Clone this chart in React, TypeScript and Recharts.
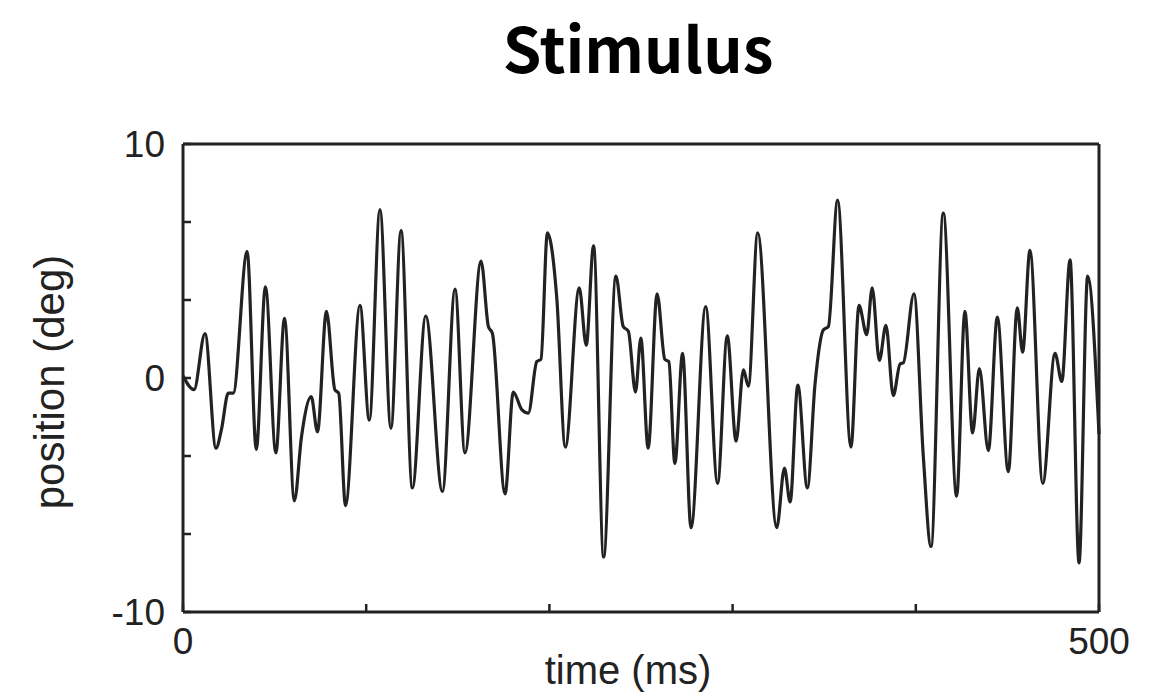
import { Line, LineChart, XAxis, YAxis } from 'recharts';

// sample times (ms) and stimulus position (deg) at turning points
const TIME = [
  0, 6, 12, 18, 21, 24.7, 27.4, 35, 40, 45, 50.7, 55.4, 60.8, 64.7, 70, 73.4, 78.3, 82.9, 85,
  88.7, 96.6, 101.7, 107.5, 113.5, 119, 125.2, 132.5, 141.6, 148.5, 153.9, 162.7, 166.7, 168.9,
  175.8, 180.3, 184.9, 188.5, 193.1, 195.4, 198.9, 204, 208.7, 216.3, 220.1, 224.1, 229.6, 236.3,
  240.3, 243.1, 247, 249.9, 253.9, 258.8, 263, 265.2, 268.5, 272.7, 277.3, 285.3, 291.8, 297.1,
  301.9, 305.9, 308.6, 313.7, 324.1, 328.3, 331.4, 335.6, 340.8, 345, 349.5, 352.3, 357.3, 364.6,
  369, 373.2, 376.2, 380.1, 383.7, 387.7, 391.4, 393.2, 399, 404.1, 408.3, 415, 422.3, 426.8, 431,
  434.7, 439.6, 444.5, 450.5, 455.4, 458.3, 462.3, 469.3, 476, 479.7, 484.2, 489.1, 493.8, 500
];
const POSITION = [
  0.1, -0.5, 1.9, -3.0, -2.2, -0.65, -0.65, 5.4, -3.05, 3.9, -3.2, 2.55, -5.25, -2.5, -0.8, -2.3,
  2.85, -0.5, -0.65, -5.45, 3.1, -1.8, 7.2, -2.15, 6.3, -4.7, 2.65, -4.85, 3.8, -3.2, 5.0, 2.2,
  1.9, -4.95, -0.6, -1.35, -1.5, 0.7, 0.8, 6.2, 3.45, -2.95, 3.85, 1.4, 5.65, -7.65, 4.35, 2.2,
  2.0, -0.6, 1.7, -3.0, 3.6, 0.8, 0.7, -3.65, 1.05, -6.4, 3.05, -4.5, 1.8, -2.7, 0.35, -0.35,
  6.2, -6.4, -3.85, -5.3, -0.3, -4.7, -0.25, 2.05, 2.2, 7.6, -2.95, 3.1, 1.85, 3.85, 0.75, 2.25,
  -0.75, 0.6, 0.65, 3.6, -3.35, -7.2, 7.05, -5.05, 2.85, -2.35, 0.4, -3.1, 2.6, -4.0, 3.0, 1.1,
  5.45, -4.5, 1.05, -0.15, 5.05, -7.9, 4.35, -2.4
];
const X_TICKS = [0, 100, 200, 300, 400, 500];
const X_LABELS = [0, 500];
const Y_TICKS = [-10, -20 / 3, -10 / 3, 0, 10 / 3, 20 / 3, 10];
const Y_LABELS = [-10, 0, 10];

const data = TIME.map((t, i) => ({ t, pos: POSITION[i] }));

const tickFont = { fill: '#222', fontSize: 37, fontFamily: 'Liberation Sans, Arial, sans-serif' };
const frame = { stroke: '#222', strokeWidth: 3 };
const tickMark = { stroke: '#222', strokeWidth: 2.5 };

export default function App() {
  return (
    <div style={{ position: 'absolute', left: 0, top: 0, width: 1154, height: 695, background: '#fff' }}>
      <div
        style={{
          position: 'absolute',
          left: 0,
          width: 1276,
          top: 1,
          textAlign: 'center',
          fontFamily: '"Noto Sans CJK KR", "Noto Sans", sans-serif',
          fontWeight: 700,
          fontSize: 62,
          lineHeight: '90px',
          color: '#000'
        }}
      >
        Stimulus
      </div>
      <div
        style={{
          position: 'absolute',
          left: 50,
          top: 382,
          transform: 'translate(-50%, -50%) rotate(-90deg)',
          whiteSpace: 'nowrap',
          fontFamily: 'Liberation Sans, Arial, sans-serif',
          fontSize: 42,
          lineHeight: '48px',
          color: '#222'
        }}
      >
        position (deg)
      </div>
      <div
        style={{
          position: 'absolute',
          left: 628,
          top: 647,
          transform: 'translateX(-50%)',
          whiteSpace: 'nowrap',
          fontFamily: 'Liberation Sans, Arial, sans-serif',
          fontSize: 40,
          lineHeight: '46px',
          color: '#222'
        }}
      >
        time (ms)
      </div>
      <LineChart
        width={1154}
        height={695}
        data={data}
        margin={{ top: 143, right: 54, bottom: 82, left: 182 }}
      >
        <XAxis
          dataKey="t"
          type="number"
          domain={[0, 500]}
          ticks={X_TICKS}
          height={1}
          tickSize={-8}
          tickMargin={24}
          tickFormatter={(v) => (X_LABELS.includes(v) ? String(v) : '')}
          tick={tickFont}
          axisLine={frame}
          tickLine={tickMark}
          interval={0}
        />
        <XAxis
          xAxisId="top"
          orientation="top"
          type="number"
          domain={[0, 500]}
          ticks={X_TICKS}
          height={1}
          tickSize={-8}
          tick={false}
          axisLine={frame}
          tickLine={tickMark}
          interval={0}
        />
        <YAxis
          type="number"
          domain={[-10, 10]}
          ticks={Y_TICKS}
          width={1}
          tickSize={-8}
          tickMargin={26}
          tickFormatter={(v) => (Y_LABELS.includes(Math.round(v * 1000) / 1000) ? String(Math.round(v)) : '')}
          tick={tickFont}
          axisLine={frame}
          tickLine={tickMark}
          interval={0}
        />
        <YAxis
          yAxisId="right"
          orientation="right"
          type="number"
          domain={[-10, 10]}
          ticks={Y_TICKS}
          width={1}
          tickSize={-8}
          tick={false}
          axisLine={frame}
          tickLine={tickMark}
          interval={0}
        />
        <Line
          type="monotone"
          dataKey="pos"
          stroke="#222"
          strokeWidth={3.2}
          dot={false}
          isAnimationActive={false}
        />
      </LineChart>
    </div>
  );
}
